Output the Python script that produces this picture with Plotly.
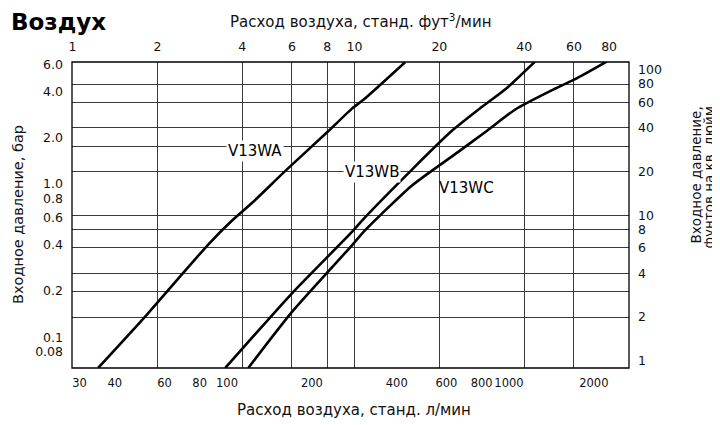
import math
import plotly.graph_objects as go

# ---- data ----
flow_wa = [34.9, 52.5, 70.2, 86.1, 104, 124, 161, 229, 278, 304, 428]          # l/min
p_wa    = [0.063, 0.143, 0.264, 0.404, 0.573, 0.762, 1.21, 2.20, 3.09, 3.50, 6.17]  # bar
flow_wb = [98.6, 170, 278, 304, 452, 626, 789, 981, 1237]
p_wb    = [0.063, 0.193, 0.486, 0.585, 1.23, 2.20, 3.09, 4.18, 6.23]
flow_wc = [119, 170, 278, 304, 452, 661, 834, 1056, 1468, 1739, 2221]
p_wc    = [0.063, 0.146, 0.398, 0.482, 0.969, 1.61, 2.20, 3.05, 4.18, 4.85, 6.23]

series_names = ["V13WA", "V13WB", "V13WC"]

lpm_ticks = [30, 40, 60, 80, 100, 200, 400, 600, 800, 1000, 2000]
scfm_ticks = [1, 2, 4, 6, 8, 10, 20, 40, 60, 80]
scfm_grid = [2, 4, 6, 8, 10, 20, 40, 60]
bar_ticks = [0.08, 0.1, 0.2, 0.4, 0.6, 0.8, 1, 2, 4, 6]
bar_text = ["0.08", "0.1", "0.2", "0.4", "0.6", "0.8", "1.0", "2.0", "4.0", "6.0"]
psi_ticks = [1, 2, 4, 6, 8, 10, 20, 40, 60, 80, 100]
psi_grid = [2, 3, 4, 6, 8, 10, 20, 30, 40, 60, 80]

LPM_PER_SCFM = 28.317
x_range = [math.log10(28.2), math.log10(2665)]
x2_range = [v - math.log10(LPM_PER_SCFM) for v in x_range]
y_range = [-1.201, 0.792]
y2_range = [-0.0495, 2.055]

FONT = "DejaVu Sans"
TICKF = dict(family=FONT, size=12.5, color="#111")
GRID = "#3a3a3a"

fig = go.Figure()
for name, fx, py in zip(series_names, [flow_wa, flow_wb, flow_wc], [p_wa, p_wb, p_wc]):
    fig.add_trace(go.Scatter(x=fx, y=py, mode="lines", name=name,
                             line=dict(color="black", width=2.6, shape="spline", smoothing=0.6),
                             showlegend=False, hoverinfo="skip"))
# empty trace to carry the secondary axes
fig.add_trace(go.Scatter(x=[None], y=[None], xaxis="x2", yaxis="y2", showlegend=False,
                         mode="markers", hoverinfo="skip"))

# the page body adds an 8px offset, so the figure is 8px smaller than the window
fig.update_layout(
    width=712, height=417,
    margin=dict(l=64, r=91, t=54, b=57, autoexpand=False),
    paper_bgcolor="white", plot_bgcolor="white",
    font=dict(family=FONT, color="#111"),
    xaxis=dict(type="log", range=x_range, tickmode="array", tickvals=lpm_ticks,
               ticktext=[str(v) for v in lpm_ticks], showgrid=False, zeroline=False,
               showline=False, ticks="", ticklabelstandoff=6,
               tickfont=dict(family=FONT, size=11.5, color="#111"), tickangle=0,
               automargin=False),
    xaxis2=dict(type="log", range=x2_range, overlaying="x", side="top", anchor="y",
                tickmode="array", tickvals=scfm_ticks, ticktext=[str(v) for v in scfm_ticks],
                showgrid=False, zeroline=False, showline=False, ticks="", ticklabelstandoff=8,
                tickfont=TICKF, tickangle=0, automargin=False,
                minor=dict(tickmode="array", tickvals=scfm_grid, showgrid=True,
                           gridcolor=GRID, gridwidth=1, ticks="")),
    yaxis=dict(type="log", range=y_range, tickmode="array", tickvals=bar_ticks,
               ticktext=bar_text, showgrid=False, zeroline=False, showline=False,
               ticks="", ticklabelstandoff=8, tickfont=TICKF, automargin=False),
    yaxis2=dict(type="log", range=y2_range, overlaying="y", side="right", anchor="x",
                tickmode="array", tickvals=psi_ticks, ticktext=[str(v) for v in psi_ticks],
                showgrid=False, zeroline=False, showline=False, ticks="", ticklabelstandoff=8,
                tickfont=TICKF, automargin=False,
                minor=dict(tickmode="array", tickvals=psi_grid, showgrid=True,
                           gridcolor=GRID, gridwidth=1, ticks="")),
    shapes=[dict(type="rect", xref="paper", yref="paper", x0=0, x1=1, y0=0, y1=1,
                 line=dict(color="black", width=1.3), layer="above")],
)

def px_x(p):  # page pixel -> paper x (plot area spans 72..629)
    return (p - 72) / 557.0

def px_y(p):  # page pixel -> paper y (plot area spans 62..368)
    return (368 - p) / 306.0

ann = []
ann.append(dict(text="<b>Воздух</b>", x=px_x(9), y=px_y(22), xref="paper", yref="paper",
                xanchor="left", yanchor="middle", showarrow=False,
                font=dict(family=FONT, size=23, color="black")))
ann.append(dict(text="Расход воздуха, станд. фут<sup>3</sup>/мин", x=px_x(360.5), y=px_y(21),
                xref="paper", yref="paper", xanchor="center", yanchor="middle", showarrow=False,
                font=dict(family=FONT, size=15)))
ann.append(dict(text="Расход воздуха, станд. л/мин", x=px_x(354), y=px_y(410),
                xref="paper", yref="paper", xanchor="center", yanchor="middle", showarrow=False,
                font=dict(family=FONT, size=15)))
ann.append(dict(text="Входное давление, бар", x=px_x(18), y=0.5, textangle=-90,
                xref="paper", yref="paper", xanchor="center", yanchor="middle", showarrow=False,
                font=dict(family=FONT, size=14.5)))
for line_text, cx in [("Входное давление,", 695.5), ("фунтов на кв. дюйм.", 708.5)]:
    ann.append(dict(text=line_text, x=px_x(cx), y=px_y(175), textangle=-90,
                    xref="paper", yref="paper", xanchor="center", yanchor="middle",
                    showarrow=False, font=dict(family=FONT, size=13.5)))
label_pos = {"V13WA": (255, 151, True), "V13WB": (371.5, 172, True),
             "V13WC": (466, 188, False)}
for name in series_names:
    lx, ly, bg = label_pos[name]
    a = dict(text=name, x=px_x(lx), y=px_y(ly), xref="paper", yref="paper",
             xanchor="center", yanchor="middle", showarrow=False, borderpad=1,
             font=dict(family=FONT, size=15, color="black"))
    if bg:
        a["bgcolor"] = "white"
    ann.append(a)
fig.update_layout(annotations=ann)

fig.write_html("out.html")
